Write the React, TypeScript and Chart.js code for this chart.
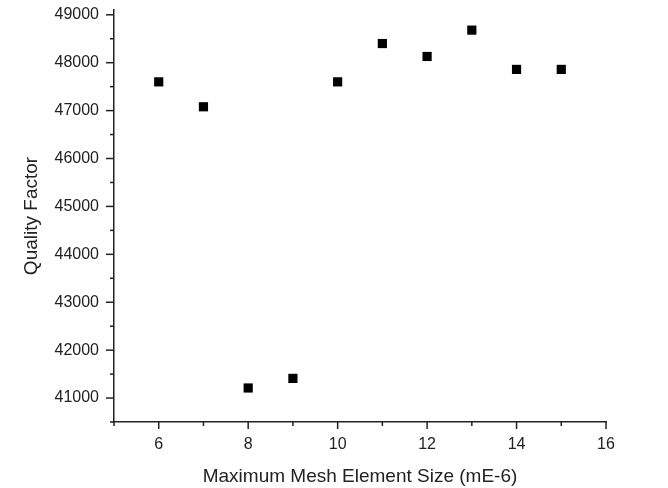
import React, { useEffect, useRef } from "react";
import { Chart, registerables } from "chart.js";

Chart.register(...registerables);

const meshSizes = [6, 7, 8, 9, 10, 11, 12, 13, 14, 15];
const qualityFactors = [47600, 47080, 41210, 41410, 47600, 48400, 48130, 48680, 47860, 47860];
const xMajorTicks = [6, 8, 10, 12, 14, 16];
const yMajorTicks = [41000, 42000, 43000, 44000, 45000, 46000, 47000, 48000, 49000];

const FONT = "'Liberation Sans', Arial, Helvetica, sans-serif";
const AXIS_COLOR = "#222";

const tickPlugin = {
  id: "customTicks",
  afterDraw(chart: any) {
    const ctx = chart.ctx;
    const xs = chart.scales.x;
    const ys = chart.scales.y;
    ctx.save();
    ctx.strokeStyle = AXIS_COLOR;
    ctx.lineWidth = 1.5;
    const bottom = chart.chartArea.bottom;
    const left = chart.chartArea.left;
    xs.ticks.forEach((t: any) => {
      const px = xs.getPixelForValue(t.value);
      const major = xMajorTicks.includes(t.value);
      const len = major ? 7 : 4;
      ctx.beginPath();
      ctx.moveTo(px, bottom);
      ctx.lineTo(px, bottom + len);
      ctx.stroke();
    });
    ys.ticks.forEach((t: any) => {
      const py = ys.getPixelForValue(t.value);
      const major = yMajorTicks.includes(t.value);
      const len = major ? 8 : 4;
      ctx.beginPath();
      ctx.moveTo(left, py);
      ctx.lineTo(left - len, py);
      ctx.stroke();
    });
    ctx.restore();
  },
};

export default function App() {
  const canvasRef = useRef<HTMLCanvasElement | null>(null);

  useEffect(() => {
    const canvas = canvasRef.current;
    if (!canvas) return;
    const chart = new Chart(canvas, {
      type: "scatter",
      data: {
        datasets: [
          {
            data: meshSizes.map((x, i) => ({ x, y: qualityFactors[i] })),
            pointStyle: "rect",
            pointRadius: 6.5,
            pointHoverRadius: 6.5,
            backgroundColor: "#000",
            borderColor: "#000",
            borderWidth: 0,
          },
        ],
      },
      options: {
        animation: false,
        responsive: false,
        maintainAspectRatio: false,
        layout: { padding: { top: 10, right: 62, left: 0, bottom: 0 } },
        plugins: { legend: { display: false }, tooltip: { enabled: false } },
        scales: {
          x: {
            type: "linear",
            min: 5,
            max: 16,
            afterFit: (s: any) => {
              s.height = 66;
              s.paddingLeft = 0;
              s.paddingRight = 0;
            },
            afterBuildTicks: (s: any) => {
              const arr = [];
              for (let v = 5; v <= 16; v++) arr.push({ value: v });
              s.ticks = arr;
            },
            ticks: {
              autoSkip: false,
              maxRotation: 0,
              padding: 13,
              color: "#222",
              font: { family: FONT, size: 16 },
              callback: (v: any) => (xMajorTicks.includes(Number(v)) ? String(v) : ""),
            },
            grid: { display: true, drawOnChartArea: false, drawTicks: false },
            border: { display: true, color: AXIS_COLOR, width: 1.5 },
            title: {
              display: true,
              text: "Maximum Mesh Element Size (mE-6)",
              color: "#222",
              font: { family: FONT, size: 19 },
              padding: { top: 0, bottom: 0 },
            },
          },
          y: {
            type: "linear",
            min: 40500,
            max: 49100,
            afterFit: (s: any) => {
              s.width = 114;
              s.paddingTop = 0;
              s.paddingBottom = 0;
            },
            afterBuildTicks: (s: any) => {
              const arr = [];
              for (let v = 40500; v <= 49000; v += 500) arr.push({ value: v });
              s.ticks = arr;
            },
            ticks: {
              autoSkip: false,
              padding: 15,
              color: "#222",
              font: { family: FONT, size: 16 },
              callback: (v: any) => (yMajorTicks.includes(Number(v)) ? String(v) : ""),
            },
            grid: { display: true, drawOnChartArea: false, drawTicks: false },
            border: { display: true, color: AXIS_COLOR, width: 1.5 },
            title: {
              display: true,
              text: "Quality Factor",
              color: "#222",
              font: { family: FONT, size: 19 },
              padding: { top: 20, bottom: 0 },
            },
          },
        },
      },
      plugins: [tickPlugin],
    });
    return () => chart.destroy();
  }, []);

  return (
    <div style={{ position: "fixed", left: 0, top: 0, width: 668, height: 488, background: "#fff" }}>
      <canvas ref={canvasRef} width={668} height={488} style={{ display: "block" }} />
    </div>
  );
}
